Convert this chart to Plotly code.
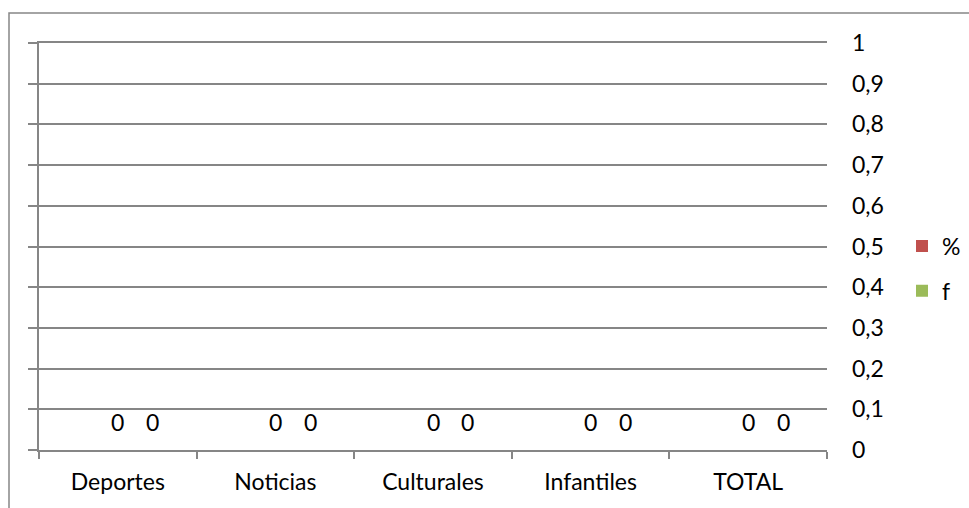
import plotly.graph_objects as go

# Categorías y series del gráfico
categorias = ["Deportes", "Noticias", "Culturales", "Infantiles", "TOTAL"]
porcentaje = [0, 0, 0, 0, 0]
frecuencia = [0, 0, 0, 0, 0]

# Marcas del eje de valores
valores_eje = [0, 0.1, 0.2, 0.3, 0.4, 0.5, 0.6, 0.7, 0.8, 0.9, 1]
etiquetas_eje = ["0", "0,1", "0,2", "0,3", "0,4", "0,5", "0,6", "0,7", "0,8", "0,9", "1"]

ANCHO, ALTO = 969, 508
M_IZQ, M_DER, M_SUP, M_INF = 39, 142, 43, 58
GRIS = "#868686"
FUENTE = dict(family="Lato, Calibri, sans-serif", size=23, color="#000000")

ancho_barra = 0.222  # fracción de la categoría
series = [
    ("%", porcentaje, "#C0504D", -ancho_barra / 2),
    ("f", frecuencia, "#9BBB59", ancho_barra / 2),
]

fig = go.Figure()
for nombre, valores, color, desfase in series:
    fig.add_trace(go.Bar(
        name=nombre, x=categorias, y=valores,
        marker=dict(color=color, line=dict(width=0)),
        width=ancho_barra, offset=desfase,
        legendgroup=nombre,
    ))

# Serie sin trazo que enlaza el eje de etiquetas de la derecha
fig.add_trace(go.Scatter(
    x=categorias, y=porcentaje, yaxis="y2", mode="none",
    showlegend=False, hoverinfo="skip",
))

# Etiquetas de datos sobre cada barra
ancho_plot = ANCHO - M_IZQ - M_DER
alto_plot = ALTO - M_SUP - M_INF
px_por_cat = ancho_plot / len(categorias)
anotaciones = []
for nombre, valores, color, desfase in series:
    centro = (desfase + ancho_barra / 2) * px_por_cat
    for cat, v in zip(categorias, valores):
        anotaciones.append(dict(
            x=cat, y=v, xref="x", yref="y", text=f"{v:g}".replace(".", ","),
            showarrow=False, xshift=centro, yshift=28, yanchor="middle",
            font=FUENTE,
        ))

# Marco exterior del gráfico
formas = [dict(
    type="rect", xref="paper", yref="paper",
    x0=(9 - M_IZQ) / ancho_plot, x1=(ANCHO + 10 - M_IZQ) / ancho_plot,
    y0=(ALTO - M_INF - (ALTO + 10)) / alto_plot, y1=(ALTO - M_INF - 13) / alto_plot,
    line=dict(color=GRIS, width=1.5), fillcolor="rgba(0,0,0,0)", layer="below",
)]

fig.update_layout(
    width=ANCHO, height=ALTO,
    margin=dict(l=M_IZQ, r=M_DER, t=M_SUP, b=M_INF, autoexpand=False),
    paper_bgcolor="white", plot_bgcolor="white",
    barmode="group", bargap=0.33,
    font=FUENTE,
    showlegend=True,
    legend=dict(
        x=(902 - M_IZQ) / ancho_plot, xanchor="left",
        y=(ALTO - M_INF - 268.5) / alto_plot, yanchor="middle",
        traceorder="grouped", tracegroupgap=12,
        bgcolor="rgba(0,0,0,0)", borderwidth=0, font=FUENTE,
    ),
    xaxis=dict(
        type="category", range=[-0.5, len(categorias) - 0.5],
        tickson="boundaries", ticks="outside", ticklen=7, tickwidth=1.5, tickcolor=GRIS,
        showline=True, mirror=True, linecolor=GRIS, linewidth=1.5,
        showgrid=False, zeroline=False,
        ticklabelstandoff=11, tickfont=FUENTE,
    ),
    yaxis=dict(
        range=[0, 1], tickvals=valores_eje, showticklabels=False,
        ticks="outside", ticklen=9, tickwidth=1.5, tickcolor=GRIS,
        showgrid=True, gridcolor=GRIS, gridwidth=1.5,
        showline=True, linecolor=GRIS, linewidth=1.5, zeroline=False,
    ),
    yaxis2=dict(
        overlaying="y", side="right", anchor="x", range=[0, 1],
        tickvals=valores_eje, ticktext=etiquetas_eje, ticks="",
        showgrid=False, showline=False, zeroline=False,
        ticklabelstandoff=24, tickfont=FUENTE,
    ),
    annotations=anotaciones,
    shapes=formas,
)

fig.write_html("out.html")
